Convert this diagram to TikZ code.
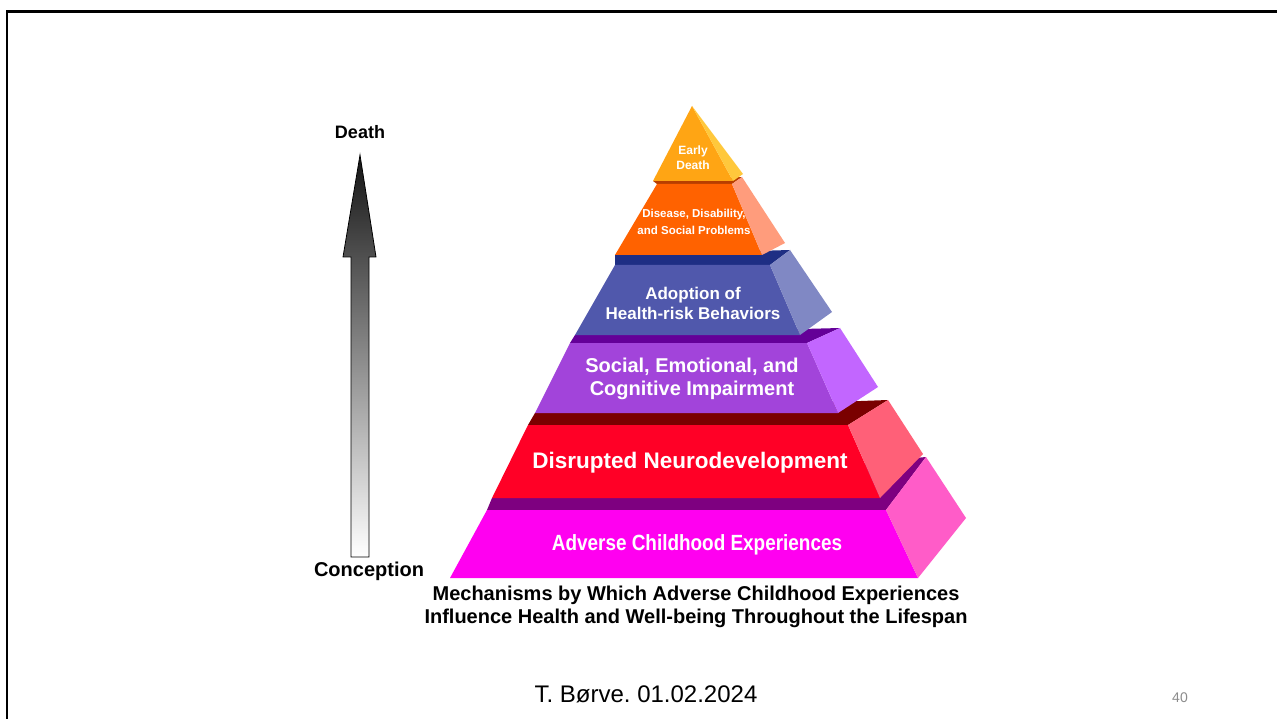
\documentclass[tikz,border=0pt]{standalone}
\usepackage{fontspec}
\setmainfont{Liberation Sans}
\usetikzlibrary{arrows,shapes}
\frenchspacing

\definecolor{earlyF}{HTML}{FFA514}
\definecolor{earlyS}{HTML}{FFC83C}
\definecolor{disF}{HTML}{FF6200}
\definecolor{disS}{HTML}{FF9C7C}
\definecolor{disB}{HTML}{B83E00}
\definecolor{adoF}{HTML}{5058AC}
\definecolor{adoS}{HTML}{8088C4}
\definecolor{adoB}{HTML}{1E2E84}
\definecolor{socF}{HTML}{A244DA}
\definecolor{socS}{HTML}{C266FF}
\definecolor{socB}{HTML}{640098}
\definecolor{neuF}{HTML}{FF0026}
\definecolor{neuS}{HTML}{FF6078}
\definecolor{neuB}{HTML}{7A0000}
\definecolor{aceF}{HTML}{FF00F0}
\definecolor{aceS}{HTML}{FF5CC8}
\definecolor{aceB}{HTML}{7E0080}

\tikzstyle{level}=[text=white, align=center, inner sep=0pt]
\tikzstyle{sidetext}=[text=black, inner sep=0pt]
\tikzstyle{caption}=[font=\bfseries\fontsize{20}{23}\selectfont, align=center, inner sep=0pt]
\tikzstyle{arrowbody}=[top color=black!92, bottom color=white, draw=black, line width=0.8pt]

\begin{document}
\begin{tikzpicture}[x=1pt, y=-1pt]

    \useasboundingbox (0,0) rectangle (1277,719);
    \fill[white] (0,0) rectangle (1277,719);
    \draw[line width=2.7pt] (1280,11.3) -- (7,11.3) -- (7,722);

    % layers from the bottom up: top band, front, side
    \foreach \tl/\tr/\br/\bl/\bk/\sk/\sb/\name in {
        {487,510}/{886,510}/{918,578}/{450,578}/{492,498}/{926,457}/{966,518}/ace,
        {528,425}/{848,425}/{880,498}/{492,498}/{535,413}/{888,400}/{923,454}/neu,
        {570,343}/{807,343}/{838,413}/{535,413}/{575,335}/{840,328}/{878,387}/soc,
        {615,265}/{770,265}/{800,335}/{575,335}/{615,255}/{790,250}/{832,312}/ado,
        {657,184}/{732,184}/{762,255}/{615,255}/{653,181}/{742,177}/{785,243}/dis}
    {
        \fill[\name B] (\tl) -- (\bk) -- (\sk) -- (\tr) -- cycle;
        \fill[\name F] (\tl) -- (\tr) -- (\br) -- (\bl) -- cycle;
        \fill[\name S] (\tr) -- (\sk) -- (\sb) -- (\br) -- cycle;
    }

    \fill[earlyF] (692,106) -- (733,181) -- (653,181) -- cycle;
    \fill[earlyS] (692,106) -- (743,174) -- (733,181) -- cycle;

    \foreach \x/\y/\sz/\sk/\name/\txt in {
        693/158/12/15/early/{Early\\Death},
        694/222/11.5/17/disease/{Disease, Disability,\\and Social Problems},
        693/303/17/20/adoption/{Adoption of\\Health-risk Behaviors},
        692/379/20/23/social/{Social, Emotional, and\\Cognitive Impairment},
        690/463/22.5/26/neuro/{Disrupted Neurodevelopment},
        697/545/22/26/ace/{\scalebox{0.86}[1]{Adverse Childhood Experiences}}}
        \node[level, font=\bfseries\fontsize{\sz}{\sk}\selectfont] (\name) at (\x,\y) {\txt};

    % time arrow
    \shade[arrowbody] (351,557) -- (351,257) -- (343,257) -- (360,155)
        -- (376,257) -- (369,257) -- (369,557) -- cycle;
    \node[sidetext, font=\bfseries\fontsize{18}{20}\selectfont] (death) at (360,132) {Death};
    \node[sidetext, font=\bfseries\fontsize{20}{22}\selectfont] (conception) at (369,571) {Conception};

    \node[caption] (title) at (696,607) {Mechanisms by Which Adverse Childhood Experiences\\Influence Health and Well-being Throughout the Lifespan};

    \node[sidetext, font=\fontsize{24}{28}\selectfont] (footer) at (646,694) {T. Børve. 01.02.2024};
    \node[sidetext, text=black!45, font=\fontsize{14}{16}\selectfont] (pagenum) at (1180,698) {40};

\end{tikzpicture}
\end{document}
